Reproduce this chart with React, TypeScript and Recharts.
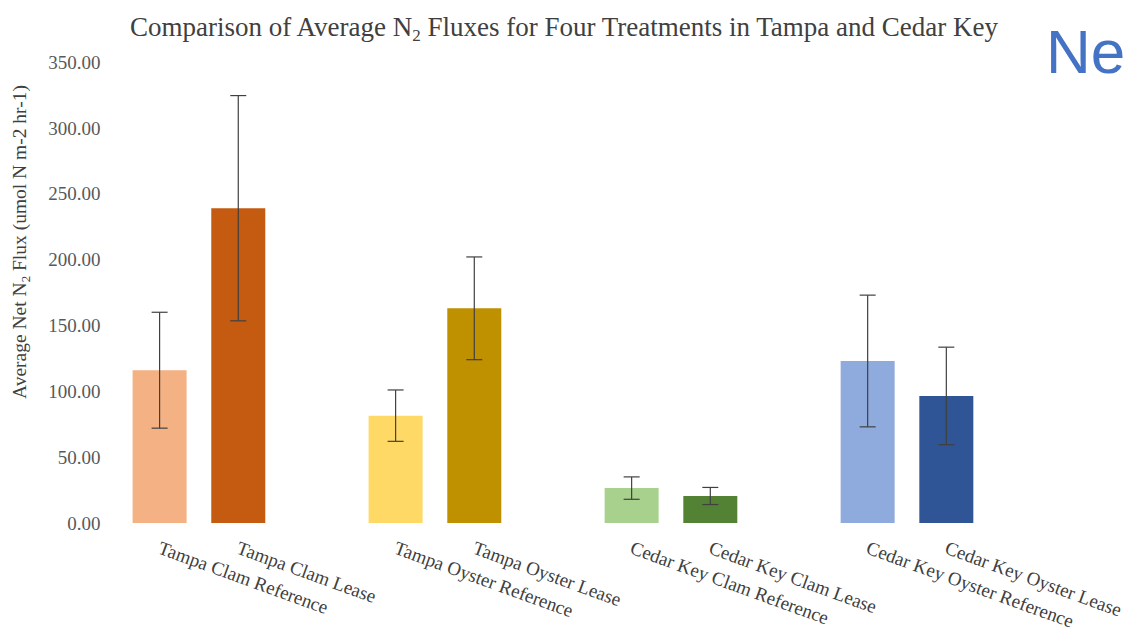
import { BarChart, Bar, XAxis, YAxis, ErrorBar, Cell, Label } from "recharts";

const categories = [
  "Tampa Clam Reference",
  "Tampa Clam Lease",
  "Tampa Oyster Reference",
  "Tampa Oyster Lease",
  "Cedar Key Clam Reference",
  "Cedar Key Clam Lease",
  "Cedar Key Oyster Reference",
  "Cedar Key Oyster Lease",
];
const fluxMeans = [116, 239, 81.5, 163, 26.5, 20.5, 123, 96.5];
const fluxErrors = [44, 85.5, 19.5, 39, 8.5, 6.5, 50, 37];
const barColors = ["#F4B183", "#C55A11", "#FFD966", "#BF9000", "#A9D18E", "#548235", "#8FAADC", "#2F5597"];
const yTicks = [0, 50, 100, 150, 200, 250, 300, 350];

// pairs of treatments with an empty slot between each pair
const rows: { key: string; label: string; value: number | null; err: number | null; color: string }[] = [];
categories.forEach((label, i) => {
  rows.push({ key: `c${i}`, label, value: fluxMeans[i], err: fluxErrors[i], color: barColors[i] });
  if (i % 2 === 1 && i < categories.length - 1) {
    rows.push({ key: `gap${i}`, label: "", value: null, err: null, color: "none" });
  }
});

const serif = "'Liberation Serif', 'Times New Roman', serif";

function XTick({ x, y, payload }: any) {
  const row = rows.find((r) => r.key === payload.value);
  if (!row || !row.label) return <g />;
  const tx = x - 3;
  const ty = y + 22;
  return (
    <text
      x={tx}
      y={ty}
      transform={`rotate(20, ${tx}, ${ty})`}
      textAnchor="start"
      fontFamily={serif}
      fontSize={19}
      fill="#404040"
    >
      {row.label}
    </text>
  );
}

function YLabel({ viewBox }: any) {
  const x = viewBox.x + 26;
  const y = 242;
  return (
    <text
      x={x}
      y={y}
      transform={`rotate(-90, ${x}, ${y})`}
      textAnchor="middle"
      fontFamily={serif}
      fontSize={19.5}
      fill="#404040"
    >
      Average Net N
      <tspan dy={4} fontSize={13}>2</tspan>
      <tspan dy={-4}> Flux (umol N m-2 hr-1)</tspan>
    </text>
  );
}

export default function App() {
  return (
    <div style={{ position: "absolute", left: 0, top: 0, width: 1127, height: 637, background: "#fff" }}>
      <BarChart
        width={1127}
        height={637}
        data={rows}
        margin={{ top: 62, right: 141, bottom: 84, left: 0 }}
      >
        <XAxis
          dataKey="key"
          type="category"
          axisLine={false}
          tickLine={false}
          tickSize={0}
          tickMargin={8}
          interval={0}
          tick={<XTick />}
        />
        <YAxis
          width={120.6}
          domain={[0, 350]}
          ticks={yTicks}
          axisLine={false}
          tickLine={false}
          tickSize={0}
          tickMargin={20}
          tickFormatter={(v: number) => v.toFixed(2)}
          tick={{ fontFamily: serif, fontSize: 19, fill: "#595959" }}
        >
          <Label content={<YLabel />} />
        </YAxis>
        <Bar dataKey="value" barSize={54} isAnimationActive={false}>
          {rows.map((r) => (
            <Cell key={r.key} fill={r.color} />
          ))}
          <ErrorBar dataKey="err" width={8} stroke="#404040" strokeWidth={1.2} />
        </Bar>
      </BarChart>
      <svg
        width={1127}
        height={637}
        style={{ position: "absolute", left: 0, top: 0, pointerEvents: "none" }}
      >
        <text x={564} y={36} textAnchor="middle" fontFamily={serif} fontSize={27} fill="#404040">
          Comparison of Average N
          <tspan dy={5} fontSize={17}>2</tspan>
          <tspan dy={-5}>{"  Fluxes for Four Treatments in Tampa and Cedar Key"}</tspan>
        </text>
        <text x={1046} y={73} fontFamily="'Liberation Sans', Arial, sans-serif" fontSize={62} fill="#4472C4">
          Ne
        </text>
      </svg>
    </div>
  );
}
